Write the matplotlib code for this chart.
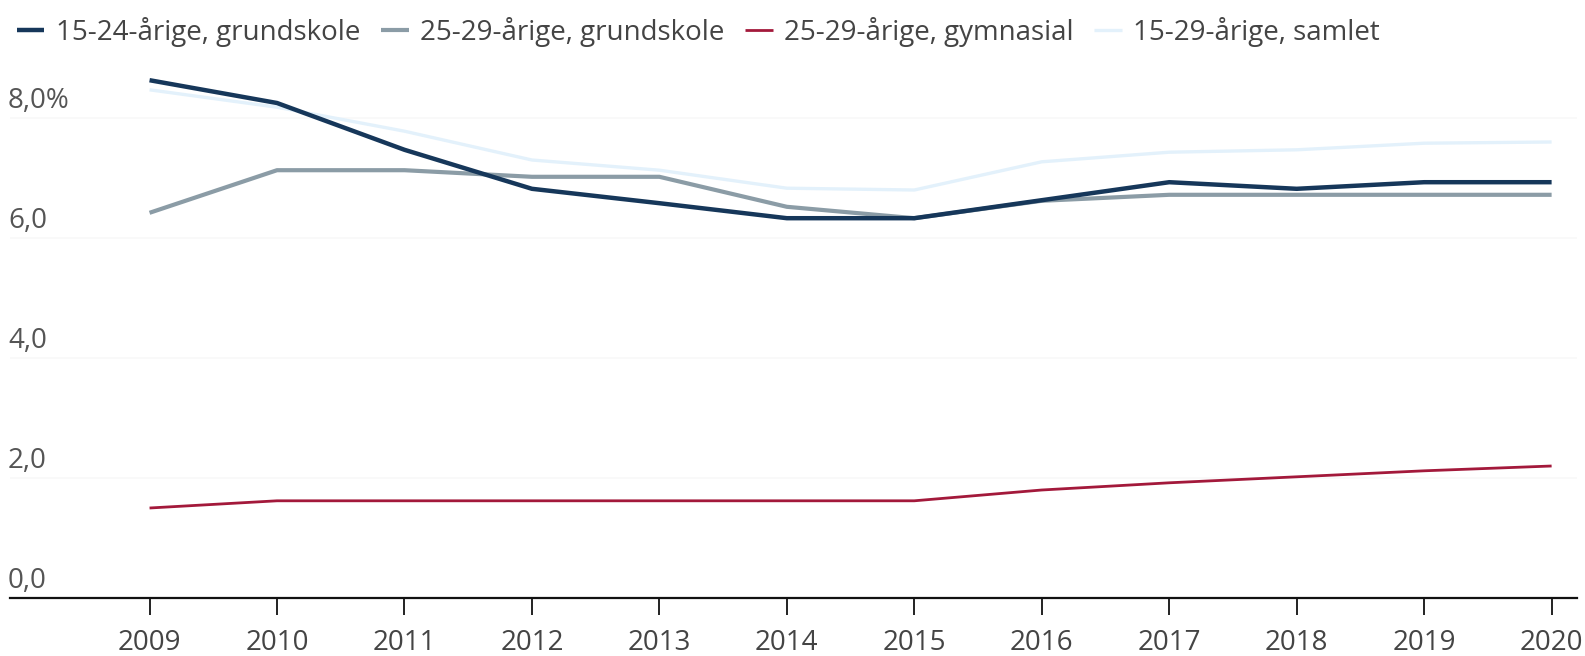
import matplotlib
matplotlib.use("Agg")
import matplotlib.pyplot as plt
from matplotlib.transforms import blended_transform_factory

years = [2009, 2010, 2011, 2012, 2013, 2014, 2015, 2016, 2017, 2018, 2019, 2020]
s_15_24_grund = [8.63, 8.25, 7.47, 6.82, 6.58, 6.33, 6.33, 6.63, 6.93, 6.82, 6.93, 6.93]
s_25_29_grund = [6.42, 7.13, 7.13, 7.02, 7.02, 6.52, 6.33, 6.62, 6.72, 6.72, 6.72, 6.72]
s_25_29_gymn = [1.50, 1.62, 1.62, 1.62, 1.62, 1.62, 1.62, 1.80, 1.92, 2.02, 2.12, 2.20]
s_15_29_samlet = [8.47, 8.18, 7.78, 7.30, 7.13, 6.83, 6.80, 7.27, 7.43, 7.47, 7.58, 7.60]

labels = ["15-24-årige, grundskole", "25-29-årige, grundskole",
          "25-29-årige, gymnasial", "15-29-årige, samlet"]
colors = ["#16375a", "#8b9ca6", "#a3193b", "#e3f1fb"]
ytick_vals = [0, 2, 4, 6, 8]
ytick_labels = ["0,0", "2,0", "4,0", "6,0", "8,0%"]

plt.rcParams['font.family'] = ['Open Sans', 'DejaVu Sans']

W, H = 1585, 656
fig = plt.figure(figsize=(W / 100, H / 100), dpi=100)
left, right, bottom, top = 10, 1577, 598, 58
ax = fig.add_axes([left / W, 1 - bottom / H, (right - left) / W, (bottom - top) / H])

step = 127.5
x0 = 2009 - (149.6 - left) / step
x1 = 2020 + (right - 1551.6) / step
ax.set_xlim(x0, x1)
ax.set_ylim(0, 9)

for v in ytick_vals[1:]:
    ax.axhline(v, color="#f8f8f8", lw=1.2, zorder=0)

series = [s_15_29_samlet, s_25_29_gymn, s_25_29_grund, s_15_24_grund]
order = [3, 2, 1, 0]
widths = [3.2, 3.0, 2.0, 2.4]
handles = {}
for idx, data in zip(order, series):
    ln, = ax.plot(years, data, color=colors[idx], lw=widths[idx], label=labels[idx],
                  solid_capstyle="butt", solid_joinstyle="round", zorder=2 + (3 - idx))
    handles[idx] = ln

for s in ["top", "right", "left"]:
    ax.spines[s].set_visible(False)
ax.spines["bottom"].set_color("#111111")
ax.spines["bottom"].set_linewidth(1.6)

ax.set_yticks([])
ax.set_xticks(years)
ax.set_xticklabels([str(y) for y in years])
ax.tick_params(axis="x", direction="out", length=12, width=1.3, color="#111111",
               labelsize=20, labelcolor="#444444", pad=10)

tr = blended_transform_factory(fig.transFigure, ax.transData)
for v, lab in zip(ytick_vals, ytick_labels):
    ax.annotate(lab, xy=(8 / W, v), xycoords=tr, xytext=(0, 2.5), textcoords="offset points",
                ha="left", va="bottom", fontsize=20, color="#555555")

leg = fig.legend([handles[i] for i in range(4)], labels, loc="upper left",
                 bbox_to_anchor=(0.0, 1.0), ncol=4, frameon=False, fontsize=20,
                 handlelength=1.0, handletextpad=0.4, columnspacing=0.75,
                 borderaxespad=0.2)
for t in leg.get_texts():
    t.set_color("#444444")

fig.savefig("out.png", dpi=100)
